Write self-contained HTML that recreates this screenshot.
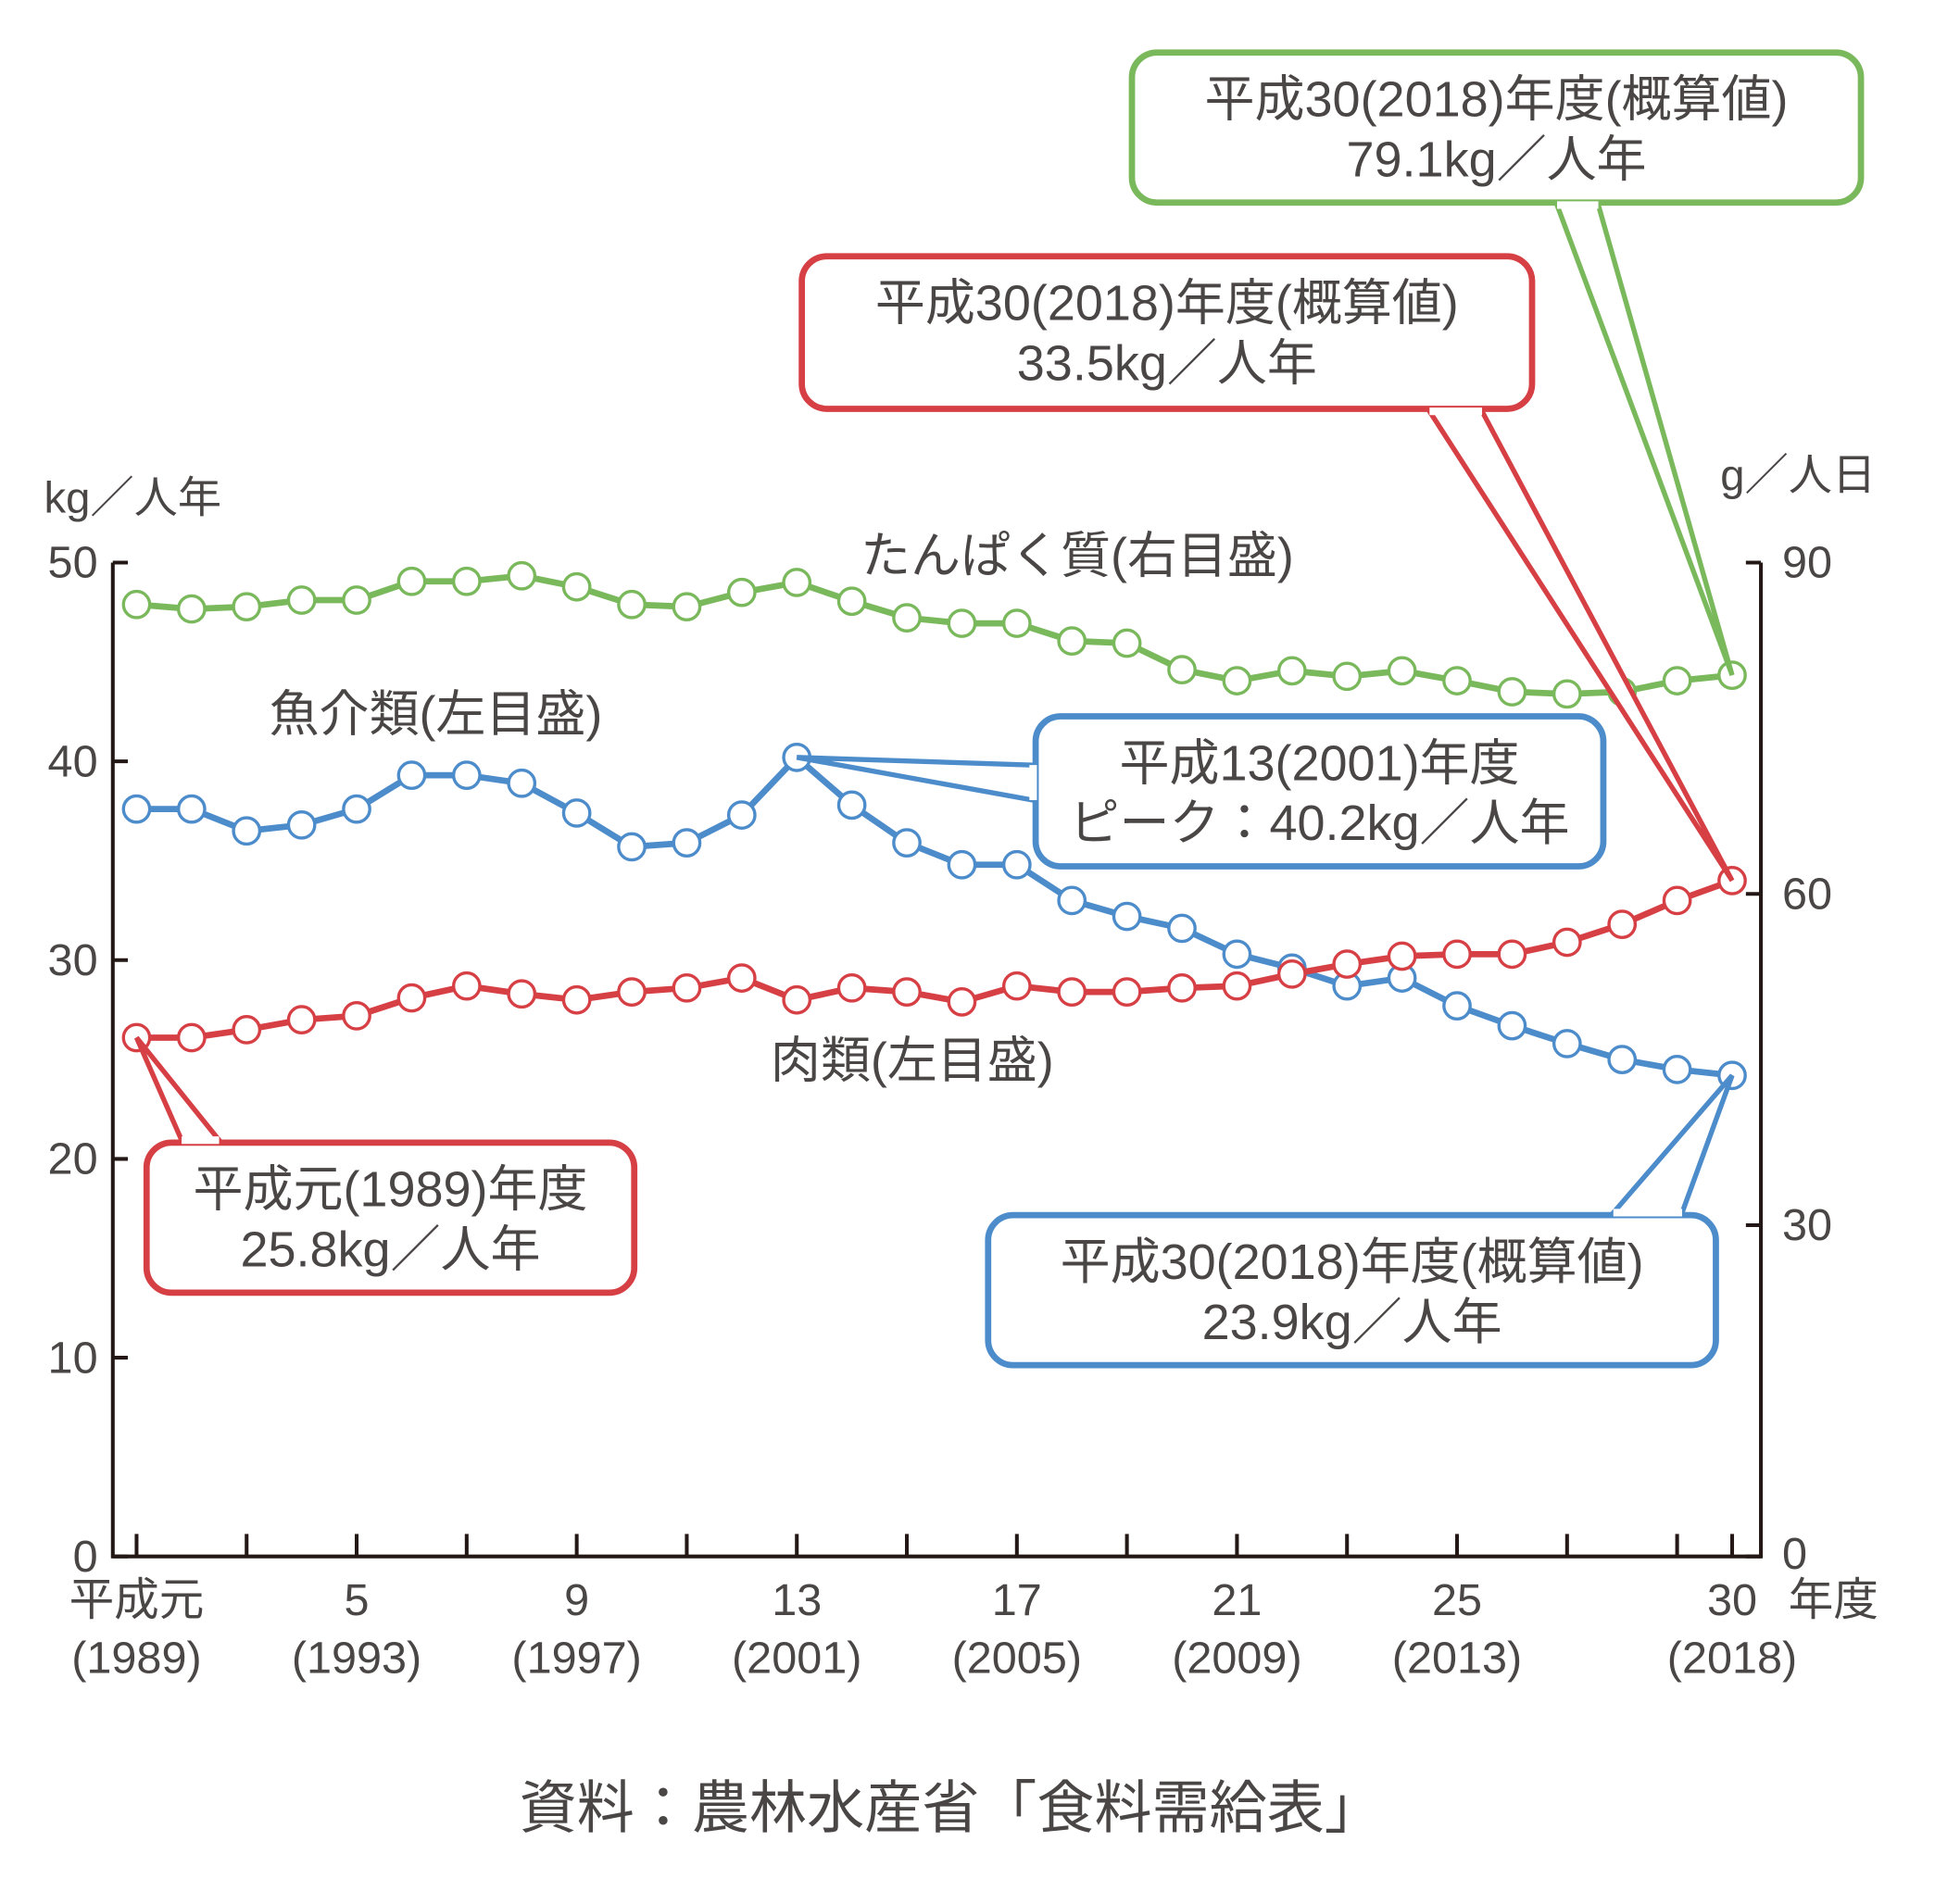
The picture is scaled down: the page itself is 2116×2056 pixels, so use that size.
<!DOCTYPE html>
<html><head><meta charset="utf-8"><style>
html,body{margin:0;padding:0;background:#fff;}
svg{display:block;}
text{font-family:"Liberation Sans","Noto Sans CJK JP",sans-serif;fill:#4a4646;}
</style></head><body>
<svg id="chart" width="2116" height="2056" viewBox="0 0 1567 1523" xmlns="http://www.w3.org/2000/svg">
<g id="axes"></g>
<g id="series"></g>
<g id="callouts"></g>
<text x="35" y="410" font-size="35">kg／人年</text>
<text x="1500" y="392" font-size="35" text-anchor="end">g／人日</text>
<text x="1430" y="1292" font-size="36">年度</text>
<text x="688" y="458" font-size="40">たんぱく質(右目盛)</text>
<text x="215" y="585" font-size="40">魚介類(左目盛)</text>
<text x="616" y="862" font-size="40">肉類(左目盛)</text>
<text x="760" y="1462" font-size="46" text-anchor="middle">資料：農林水産省「食料需給表」</text>
</svg>
<script>
const years = [1989,1990,1991,1992,1993,1994,1995,1996,1997,1998,1999,2000,2001,2002,2003,2004,2005,2006,2007,2008,2009,2010,2011,2012,2013,2014,2015,2016,2017,2018];
const fish = [37.6,37.6,36.5,36.8,37.6,39.3,39.3,38.9,37.4,35.7,35.9,37.3,40.2,37.8,35.9,34.8,34.8,33.0,32.2,31.6,30.3,29.6,28.7,29.1,27.7,26.7,25.8,25.0,24.5,24.2];
const meat = [26.1,26.1,26.5,27.0,27.2,28.1,28.7,28.3,28.0,28.4,28.6,29.1,28.0,28.6,28.4,27.9,28.7,28.4,28.4,28.6,28.7,29.3,29.8,30.2,30.3,30.3,30.9,31.8,33.0,34.0];
const protein = [86.2,85.8,86.0,86.6,86.6,88.3,88.3,88.8,87.8,86.2,86.0,87.3,88.2,86.5,85.0,84.5,84.5,82.9,82.7,80.3,79.3,80.2,79.7,80.2,79.3,78.3,78.1,78.3,79.3,79.8];
const leftTicks = [0,10,20,30,40,50];
const rightTicks = [0,30,60,90];
const xLabelYears = [1989,1993,1997,2001,2005,2009,2013,2018];
const xLabelTop = ["平成元","5","9","13","17","21","25","30"];
const xLabelBottom = ["(1989)","(1993)","(1997)","(2001)","(2005)","(2009)","(2013)","(2018)"];

const NS="http://www.w3.org/2000/svg";
const X0=90,X1=1408,Y0=1245,Ytop=450;
const xs=y=>109+(y-1989)*(1385-109)/29;
const yl=v=>Y0-(v/50)*(Y0-Ytop);
const yr=v=>Y0-(v/90)*(Y0-Ytop);
function mk(tag,attrs,parent){const e=document.createElementNS(NS,tag);for(const k in attrs)e.setAttribute(k,attrs[k]);parent.appendChild(e);return e;}
const axes=document.getElementById('axes');
const a=mk('path',{d:`M${X0},${Ytop} V${Y0} H${X1} V${Ytop}`,fill:'none',stroke:'#231815','stroke-width':3},axes);


leftTicks.forEach(v=>{
  const t=mk('line',{x1:X0,x2:X0+12,y1:yl(v),y2:yl(v),stroke:'#231815','stroke-width':3},axes);
  
  
  const l=mk('text',{x:78,y:yl(v)+12,'font-size':36,'text-anchor':'end'},axes);
  
  
  l.textContent=v;
});
rightTicks.forEach(v=>{
  const t=mk('line',{x1:X1-12,x2:X1,y1:yr(v),y2:yr(v),stroke:'#231815','stroke-width':3},axes);
  
  
  const l=mk('text',{x:1425,y:yr(v)+12+(v===0?-2:0),'font-size':36},axes);
  
  
  l.textContent=v;
});
for(let y=1989;y<=2018;y+=2){
  const t=mk('line',{x1:xs(y),x2:xs(y),y1:Y0,y2:Y0-18,stroke:'#231815','stroke-width':3},axes);
  
  
}
{const t=mk('line',{x1:xs(2018),x2:xs(2018),y1:Y0,y2:Y0-18,stroke:'#231815','stroke-width':3},axes);

}
xLabelYears.forEach((y,i)=>{
  const l=mk('text',{x:xs(y),y:1292,'font-size':36,'text-anchor':'middle'},axes);
  
  
  l.textContent=xLabelTop[i];
  const l2=mk('text',{x:xs(y),y:1338,'font-size':36,'text-anchor':'middle'},axes);
  
  
  l2.textContent=xLabelBottom[i];
});
const series=document.getElementById('series');
function drawSeries(vals,yf,color,name){
  const p=mk('polyline',{points:vals.map((v,i)=>xs(years[i])+','+yf(v)).join(' '),fill:'none',stroke:color,'stroke-width':5},series);
  
  
  vals.forEach((v,i)=>{
    const c=mk('circle',{cx:xs(years[i]),cy:yf(v),r:10.5,fill:'#fff',stroke:color,'stroke-width':2.5},series);
    
    
  });
}
const GREEN='#7ab85c',RED='#d64045',BLUE='#4d8ccb';
drawSeries(protein,yr,GREEN,'protein');
drawSeries(fish,yl,BLUE,'fish');
drawSeries(meat,yl,RED,'meat');
const co=document.getElementById('callouts');
function callout(name,color,rx,ry,rw,rh,p1,p2,tx,ty,lines){
  const g=mk('g',{},co);
  
  
  mk('rect',{x:rx,y:ry,width:rw,height:rh,rx:20,fill:'#fff',stroke:color,'stroke-width':5},g);
  mk('polygon',{points:`${p1[0]},${p1[1]} ${tx},${ty} ${p2[0]},${p2[1]}`,fill:'#fff',stroke:color,'stroke-width':4,'stroke-linejoin':'miter'},g);
  mk('line',{x1:p1[0],y1:p1[1],x2:p2[0],y2:p2[1],stroke:'#fff','stroke-width':6},g);
  lines.forEach((s,i)=>{
    const t=mk('text',{x:rx+rw/2,y:ry+51+i*48,'font-size':40,'text-anchor':'middle'},g);
    t.textContent=s;
  });
}
callout('callout-protein-2018',GREEN,905,42,583,120,[1245,164],[1278,164],xs(2018),yr(protein[29]),['平成30(2018)年度(概算値)','79.1kg／人年']);
callout('callout-meat-2018',RED,641,205,584,122,[1143,329],[1185,329],xs(2018),yl(meat[29]),['平成30(2018)年度(概算値)','33.5kg／人年']);
callout('callout-fish-peak',BLUE,828,573,454,120,[826,612],[826,640],xs(2001),yl(fish[12]),['平成13(2001)年度','ピーク：40.2kg／人年']);
callout('callout-meat-1989',RED,117,914,390,120,[145,912],[175,912],xs(1989),yl(meat[0]),['平成元(1989)年度','25.8kg／人年']);
callout('callout-fish-2018',BLUE,790,972,582,120,[1290,970],[1345,970],xs(2018),yl(fish[29]),['平成30(2018)年度(概算値)','23.9kg／人年']);
</script>
</body></html>
